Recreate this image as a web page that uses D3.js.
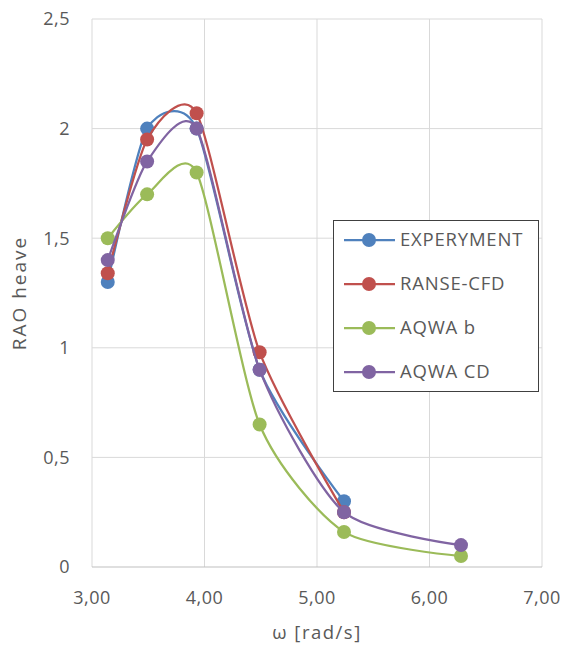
<!DOCTYPE html>
<html><head><meta charset="utf-8">
<script src="https://cdn.jsdelivr.net/npm/d3@7"></script>
<style>body{margin:0;background:#fff;} text{font-family:"Open Sans",sans-serif;fill:#595959;}</style>
</head><body><svg id="c" width="564" height="646"></svg>
<script>
const omega = [3.14, 3.49, 3.93, 4.49, 5.24, 6.28];
const seriesNames = ["EXPERYMENT", "RANSE-CFD", "AQWA b", "AQWA CD"];
const experyment = [1.30, 2.00, 2.00, 0.90, 0.30];
const ranseCfd = [1.34, 1.95, 2.07, 0.98, 0.25];
const aqwaB = [1.50, 1.70, 1.80, 0.65, 0.16, 0.05];
const aqwaCD = [1.40, 1.85, 2.00, 0.90, 0.25, 0.10];
const colors = ["#4F81BD", "#C0504D", "#9BBB59", "#8064A2"];
const xTicks = [3, 4, 5, 6, 7];
const yTicks = [0, 0.5, 1, 1.5, 2, 2.5];

const seriesVals = [experyment, ranseCfd, aqwaB, aqwaCD];
const svg = d3.select("#c");
const x = d3.scaleLinear().domain([3, 7]).range([92, 542]);
const y = d3.scaleLinear().domain([0, 2.5]).range([567, 19]);
const fmt = v => v.toString().replace(".", ",");

// gridlines
svg.append("g").selectAll("line").data(yTicks.slice(1)).join("line")
  .attr("x1", x(3)).attr("x2", x(7)).attr("y1", d => y(d)).attr("y2", d => y(d))
  .attr("stroke", "#d9d9d9").attr("stroke-width", 1);
svg.append("g").selectAll("line").data(xTicks.slice(1)).join("line")
  .attr("y1", y(0)).attr("y2", y(2.5)).attr("x1", d => x(d)).attr("x2", d => x(d))
  .attr("stroke", "#d9d9d9").attr("stroke-width", 1);
// axes lines
svg.append("line").attr("x1", x(3)).attr("x2", x(3)).attr("y1", y(0)).attr("y2", y(2.5)).attr("stroke", "#d9d9d9");
svg.append("line").attr("x1", x(3)).attr("x2", x(7)).attr("y1", y(0)).attr("y2", y(0)).attr("stroke", "#bfbfbf");

// tick labels
svg.append("g").selectAll("text").data(yTicks).join("text")
  .attr("x", 70).attr("y", d => y(d)).attr("dy", "0.35em").attr("text-anchor", "end")
  .attr("font-size", 18).attr("letter-spacing", 0.5).text(d => fmt(d));
svg.append("g").selectAll("text").data(xTicks).join("text")
  .attr("x", d => x(d)).attr("y", 598).attr("dy", "0.35em").attr("text-anchor", "middle")
  .attr("font-size", 18).attr("letter-spacing", 0.5).text(d => d3.format(".2f")(d).replace(".", ","));
// axis titles
svg.append("text").attr("transform", `translate(19,${(y(0)+y(2.5))/2}) rotate(-90)`)
  .attr("text-anchor", "middle").attr("dy", "0.35em").attr("font-size", 19).attr("letter-spacing", 2).text("RAO heave");
svg.append("text").attr("x", (x(3)+x(7))/2).attr("y", 633).attr("dy", "0.35em")
  .attr("text-anchor", "middle").attr("font-size", 18.5).attr("letter-spacing", 1.5).text("ω [rad/s]");

// series
const line = d3.line().x(d => x(d[0])).y(d => y(d[1])).curve(d3.curveCardinal.tension(0.3));
seriesVals.forEach((vals, i) => {
  const pts = vals.map((v, j) => [omega[j], v]);
  const g = svg.append("g");
  g.append("path").attr("d", line(pts)).attr("fill", "none").attr("stroke", colors[i]).attr("stroke-width", 2.25);
  g.selectAll("circle").data(pts).join("circle")
    .attr("cx", d => x(d[0])).attr("cy", d => y(d[1])).attr("r", 7).attr("fill", colors[i]);
});

// legend
const lg = svg.append("g");
lg.append("rect").attr("x", 333.5).attr("y", 220.5).attr("width", 205).attr("height", 171)
  .attr("fill", "#fff").attr("stroke", "#404040").attr("stroke-width", 1);
seriesNames.forEach((n, i) => {
  const yy = 240 + i * 44;
  lg.append("line").attr("x1", 344).attr("x2", 395).attr("y1", yy).attr("y2", yy).attr("stroke", colors[i]).attr("stroke-width", 2.25);
  lg.append("circle").attr("cx", 369).attr("cy", yy).attr("r", 7).attr("fill", colors[i]);
  lg.append("text").attr("x", 400).attr("y", yy).attr("dy", "0.35em").attr("font-size", 18.5).attr("letter-spacing", 0.8).text(n);
});
</script></body></html>
